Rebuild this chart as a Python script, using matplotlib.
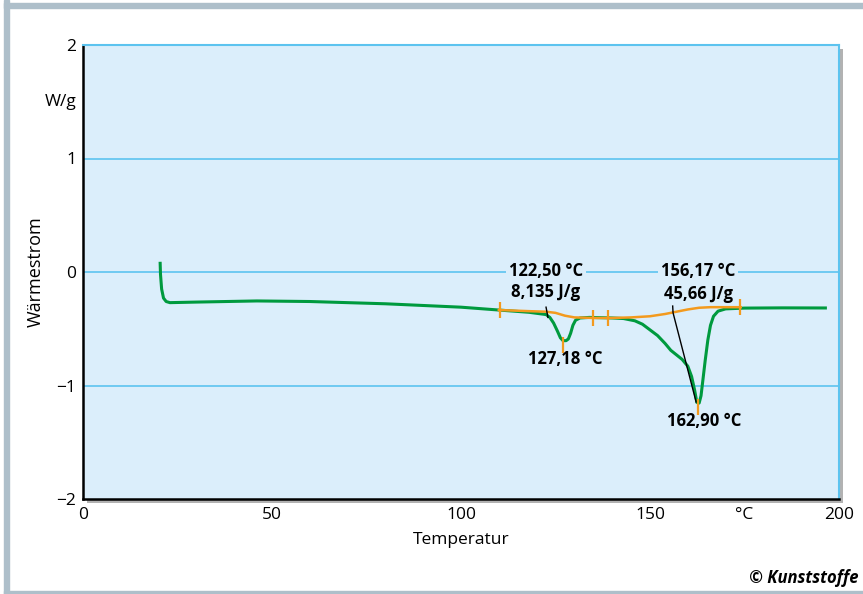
import matplotlib
matplotlib.use("Agg")
import matplotlib.pyplot as plt
import matplotlib.patheffects as pe
from matplotlib.patches import Rectangle

plt.rcParams["font.family"] = ["Open Sans", "DejaVu Sans"]
plt.rcParams["axes.unicode_minus"] = True

# DSC curve (heat flow vs temperature)
temp = [20.4, 20.5, 20.8, 21.3, 22.0, 23.0, 30, 46, 60, 80, 100, 110, 118, 122.5,
        123.5, 124.5, 125.5, 126.3, 127.0, 127.8, 128.4, 129.0, 129.6, 130.3, 131.5,
        134, 140, 143, 146, 148, 150, 152, 154, 155.5, 157, 158.5, 160, 161, 161.8,
        162.4, 163.0, 163.5, 164.0, 164.6, 165.3, 166.0, 166.8, 168, 170, 175, 185, 196.8]
heat = [0.09, -0.02, -0.15, -0.23, -0.26, -0.27, -0.265, -0.255, -0.26, -0.28, -0.31,
        -0.335, -0.355, -0.375, -0.40, -0.45, -0.52, -0.58, -0.605, -0.605, -0.59,
        -0.54, -0.47, -0.425, -0.405, -0.40, -0.405, -0.41, -0.43, -0.46, -0.51, -0.56,
        -0.63, -0.69, -0.73, -0.77, -0.83, -0.92, -1.04, -1.15, -1.155, -1.09, -0.95,
        -0.78, -0.6, -0.47, -0.39, -0.345, -0.325, -0.318, -0.316, -0.317]

# integration baseline
base_t = [110, 118, 122.5, 125, 127.5, 130, 135, 140, 145, 150, 154, 157, 160, 163,
          166, 170, 174]
base_h = [-0.335, -0.345, -0.35, -0.36, -0.385, -0.40, -0.405, -0.405, -0.40, -0.39,
          -0.37, -0.35, -0.33, -0.315, -0.31, -0.31, -0.31]
limit_t = [110.3, 135, 139, 173.8]
limit_h = [-0.335, -0.405, -0.405, -0.31]
peak_t = [127.0, 162.6]
peak_h = [-0.64, -1.19]

# tangents
tan1_t = [122.5, 123.0]
tan1_h = [-0.31, -0.40]
tan2_t = [156.0, 156.1, 162.2]
tan2_h = [-0.30, -0.36, -1.145]

x_ticks = [0, 50, 100, 150, 175, 200]
x_labels = ["0", "50", "100", "150", "°C", "200"]
y_ticks = [-2, -1, 0, 1, 2]
y_labels = ["\u22122", "\u22121", "0", "1", "2"]

GREEN = "#009a3e"
ORANGE = "#f39a1e"
GRID = "#5cc3ef"
BG = "#dbeefb"
FRAME = "#aebfca"

fig = plt.figure(figsize=(8.63, 5.94), dpi=100)
W, H = 863, 594

# outer frame bars
fig.patches.append(Rectangle((4 / W, 0), 5 / W, 1, transform=fig.transFigure,
                             color=FRAME, zorder=0))
fig.patches.append(Rectangle((4 / W, 1 - 8 / H), 1, 5 / H, transform=fig.transFigure,
                             color=FRAME, zorder=0))
fig.patches.append(Rectangle((4 / W, 0), 1, 3 / H, transform=fig.transFigure,
                             color=FRAME, zorder=0))

ax = fig.add_axes([83 / W, 95 / H, 756 / W, 454 / H])
ax.set_facecolor(BG)
ax.patch.set_path_effects([pe.SimplePatchShadow(offset=(3, -3), alpha=0.45, shadow_rgbFace="#555555"),
                           pe.Normal()])
ax.set_xlim(0, 200)
ax.set_ylim(-2, 2)

for s in ["top", "right"]:
    ax.spines[s].set_color(GRID)
    ax.spines[s].set_linewidth(1.5)
for s in ["left", "bottom"]:
    ax.spines[s].set_color("black")
    ax.spines[s].set_linewidth(1.8)

for yv in [-1, 0, 1]:
    ax.axhline(yv, color=GRID, linewidth=1.2, zorder=1)

ax.set_yticks(y_ticks)
ax.set_yticklabels(y_labels)
ax.set_xticks(x_ticks)
ax.set_xticklabels(x_labels)
ax.tick_params(axis="both", length=0, labelsize=12.5)
ax.tick_params(axis="y", pad=5)
ax.tick_params(axis="x", pad=6)
ax.set_xticks([50, 100, 150], minor=True)
ax.tick_params(axis="x", which="minor", direction="in", length=5, color=GRID, width=1)

ax.plot(temp, heat, color=GREEN, linewidth=2.2, zorder=3, solid_capstyle="butt")
ax.plot(base_t, base_h, color=ORANGE, linewidth=1.8, zorder=4)
ax.plot(limit_t, limit_h, linestyle="none", marker="|", markersize=12,
        markeredgewidth=1.6, color=ORANGE, zorder=5)
ax.plot(peak_t, peak_h, linestyle="none", marker="|", markersize=12,
        markeredgewidth=1.6, color=ORANGE, zorder=5)
ax.plot(tan1_t, tan1_h, color="black", linewidth=1.0, zorder=6)
ax.plot(tan2_t, tan2_h, color="black", linewidth=1.0, zorder=6)

lab = dict(fontsize=12, fontweight="bold", ha="center", va="center", zorder=7)
box = dict(facecolor=BG, edgecolor="none", pad=2)
ax.text(122.5, 0.01, "122,50 °C", bbox=box, **lab)
ax.text(122.5, -0.18, "8,135 J/g", **lab)
ax.text(127.5, -0.77, "127,18 °C", **lab)
ax.text(162.8, 0.01, "156,17 °C", bbox=box, **lab)
ax.text(162.8, -0.19, "45,66 J/g", **lab)
ax.text(164.4, -1.31, "162,90 °C", **lab)

ax.set_xlabel("Temperatur", fontsize=12.5, labelpad=6)
ax.set_ylabel("Wärmestrom", fontsize=13, labelpad=10)
ax.yaxis.set_label_coords(-0.05, 0.5)
ax.text(-0.008, 1.5, "W/g", fontsize=12.5, ha="right", va="center",
        transform=ax.get_yaxis_transform())

fig.text(858 / W, 1 - 578 / H, "© Kunststoffe", fontsize=12, fontweight="bold",
         fontstyle="italic", ha="right", va="center")

fig.savefig("out.png", dpi=100)
